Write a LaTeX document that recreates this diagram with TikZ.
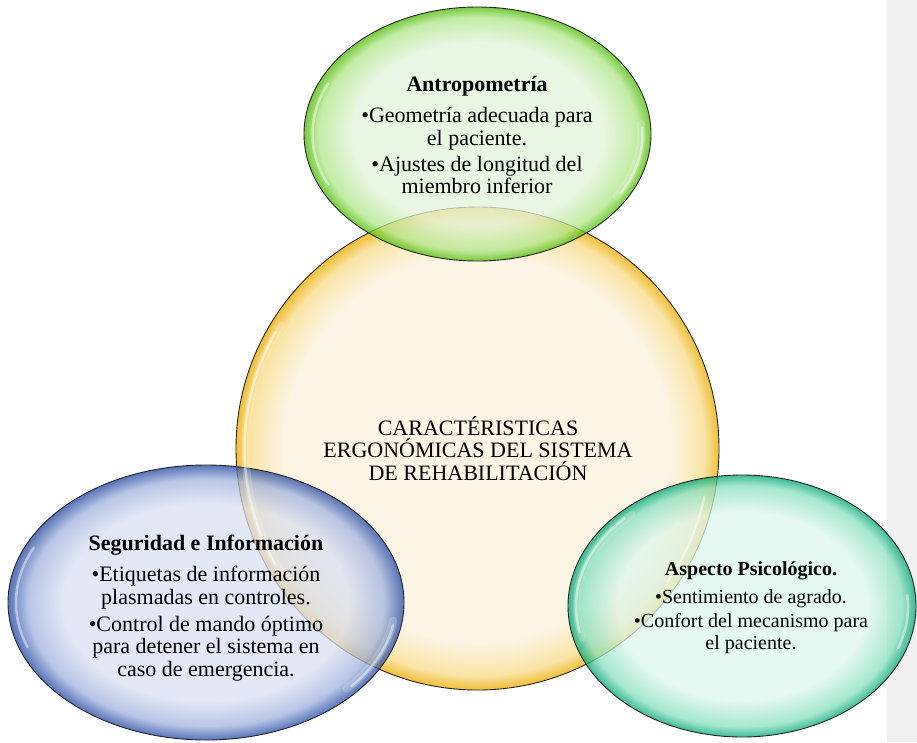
\documentclass[tikz,border=0pt]{standalone}
\usepackage{fontspec}
\setmainfont{Liberation Serif}
\usetikzlibrary{shapes.geometric}
\definecolor{graybg}{RGB}{240,240,240}
\definecolor{Ypale}{RGB}{252,245,230}
\definecolor{Ymid}{RGB}{250,228,165}
\definecolor{Yrim}{RGB}{240,190,55}
\definecolor{Gpale}{RGB}{227,244,219}
\definecolor{Gmid}{RGB}{175,230,135}
\definecolor{Grim}{RGB}{75,185,0}
\definecolor{Bpale}{RGB}{219,224,242}
\definecolor{Bmid}{RGB}{160,178,222}
\definecolor{Brim}{RGB}{35,70,160}
\definecolor{Tpale}{RGB}{222,246,238}
\definecolor{Tmid}{RGB}{135,224,192}
\definecolor{Trim}{RGB}{0,165,115}
\pgfdeclareradialshading{shY}{\pgfpoint{0bp}{0bp}}{color(0bp)=(Ypale); color(20bp)=(Ypale); color(23.5bp)=(Ymid); color(25bp)=(Yrim); color(50bp)=(Yrim)}
\pgfdeclareradialshading{shG}{\pgfpoint{0bp}{0bp}}{color(0bp)=(Gpale); color(18bp)=(Gpale); color(23bp)=(Gmid); color(25bp)=(Grim); color(50bp)=(Grim)}
\pgfdeclareradialshading{shB}{\pgfpoint{0bp}{0bp}}{color(0bp)=(Bpale); color(18bp)=(Bpale); color(22.5bp)=(Bmid); color(25bp)=(Brim); color(50bp)=(Brim)}
\pgfdeclareradialshading{shT}{\pgfpoint{0bp}{0bp}}{color(0bp)=(Tpale); color(18bp)=(Tpale); color(23bp)=(Tmid); color(25bp)=(Trim); color(50bp)=(Trim)}
\tikzset{
  bubble/.style={ellipse, draw=black!85, line width=0.9pt, inner sep=0pt, outer sep=0pt},
  glass/.style={fill opacity=0.75},
  gloss/.style={draw=white, line width=2.5pt, opacity=0.45, line cap=round},
  glosswide/.style={draw=white, line width=8pt, opacity=0.2, line cap=round},
  txt/.style={align=center, inner sep=0pt, anchor=north, text=black},
  big/.style={font=\fontsize{22}{22.5}\selectfont},
  small/.style={font=\fontsize{20}{22.5}\selectfont}
}
\begin{document}
\begin{tikzpicture}[x=1pt,y=-1pt]
\useasboundingbox (0,0) rectangle (917,742);
\fill[white] (0,0) rectangle (917,742);
\fill[graybg] (887,0) rectangle (917,742);
% bubbles
\node[bubble, shading=shY, minimum width=483pt, minimum height=483pt] (core) at (477.5,448.5) {};
\node[bubble, glass, shading=shG, minimum width=347pt, minimum height=254pt] (antro) at (477.5,134) {};
\node[bubble, glass, shading=shB, minimum width=396pt, minimum height=275pt] (segur) at (206,602.5) {};
\node[bubble, glass, shading=shT, minimum width=348pt, minimum height=262pt] (psico) at (742,606) {};
% gloss highlights
\draw[glosswide] ([shift={(148:232 and 232)}]core.center) arc[start angle=148, end angle=212, x radius=232, y radius=232];
\draw[gloss] ([shift={(150:233 and 233)}]core.center) arc[start angle=150, end angle=210, x radius=233, y radius=233];
\draw[gloss] ([shift={(12:232 and 232)}]core.center) arc[start angle=12, end angle=35, x radius=232, y radius=232];
\draw[glosswide] ([shift={(-5:164 and 118)}]antro.center) arc[start angle=-5, end angle=32, x radius=164, y radius=118];
\draw[gloss] ([shift={(-3:165 and 119)}]antro.center) arc[start angle=-3, end angle=30, x radius=165, y radius=119];
\draw[gloss] ([shift={(155:165 and 119)}]antro.center) arc[start angle=155, end angle=205, x radius=165, y radius=119];
\draw[glosswide] ([shift={(8:189 and 129)}]segur.center) arc[start angle=8, end angle=42, x radius=189, y radius=129];
\draw[gloss] ([shift={(10:190 and 130)}]segur.center) arc[start angle=10, end angle=40, x radius=190, y radius=130];
\draw[gloss] ([shift={(160:190 and 130)}]segur.center) arc[start angle=160, end angle=205, x radius=190, y radius=130];
\draw[glosswide] ([shift={(165:165 and 123)}]psico.center) arc[start angle=165, end angle=228, x radius=165, y radius=123];
\draw[gloss] ([shift={(168:166 and 124)}]psico.center) arc[start angle=168, end angle=225, x radius=166, y radius=124];
\draw[gloss] ([shift={(-5:166 and 124)}]psico.center) arc[start angle=-5, end angle=20, x radius=166, y radius=124];
% texts
\node[txt, big] (coreT) at (478,416) {CARACTÉRISTICAS\\ERGONÓMICAS DEL SISTEMA\\DE REHABILITACIÓN};
\node[txt, big] (antroT) at (477,76) {\textbf{Antropometría}\\[9pt]•Geometría adecuada para\\el paciente.\\[3.5pt]•Ajustes de longitud del\\miembro inferior};
\node[txt, big] (segurT) at (206,535) {\textbf{Seguridad e Información}\\[8.5pt]•Etiquetas de información\\plasmadas en controles.\\[4.5pt]•Control de mando óptimo\\para detener el sistema en\\caso de emergencia.};
\node[txt, small] (psicoT) at (751,561) {\textbf{Aspecto Psicológico.}\\[5.5pt]•Sentimiento de agrado.\\[1.5pt]•Confort del mecanismo para\\el paciente.};
\end{tikzpicture}
\end{document}
